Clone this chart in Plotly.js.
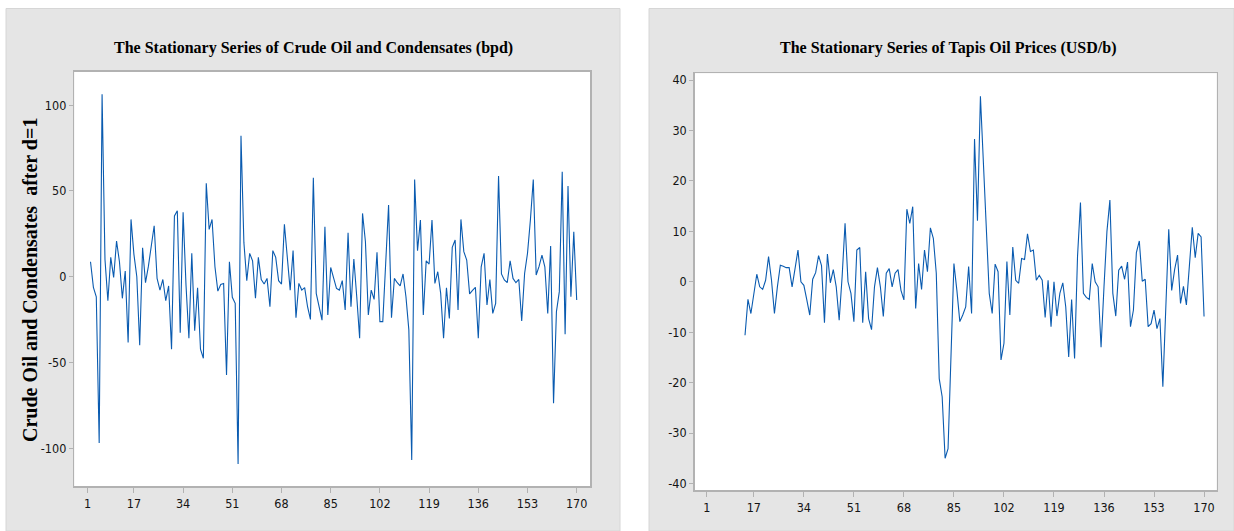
<!DOCTYPE html>
<html>
<head>
<meta charset="utf-8">
<script src="https://cdn.plot.ly/plotly-3.0.1.min.js"></script>
<style>html,body{margin:0;padding:0;background:#fff;}#chart{width:1234px;height:531px;}</style>
</head>
<body>
<div id="chart"></div>
<script>
// ---- Data ----
var crudeStart = 2;   // first index of the differenced crude series
var crudeValues = [
  8.7, -6.2, -11.7, -97, 106.4, 10, -14, 11.3, -0.4,
  20.8, 8.7, -12.6, 3.3, -38.3, 33.4, 13, 0, -40, 16.9,
  -3.5, 6, 18, 29.7, -1, -7.8, -1.6, -14, -5.4, -42.3,
  35.4, 38.5, -32.6, 37.5, -5, -35.9, 13.6, -31.5, -6.4, -42.3,
  -47.6, 54.4, 27.6, 33.4, 5.8, -8.4, -4.5, -3.9, -57.3, 8.7,
  -12, -15.5, -109.2, 82.2, 20, -2.3, 13.6, 9.3, -12.6, 11.3,
  -1.6, -4.3, -1, -17.5, 15.2, 11.3, -2.3, -4.3, 30.5, 11.7,
  -7.8, 15.2, -23.9, -3.9, -7.8, -6.4, -17.5, -24.9, 57.7, -9.7,
  -18.5, -25.3, 29.1, -22.3, 5.4, 0, -6.8, -7.8, -2.3, -19.4,
  25.6, -17.5, 10.3, -11.7, -35.9, 36.9, 20.4, -22.3, -7.8, -13.2,
  14.2, -26.2, -26.2, 7.8, 41.8, -23.9, -1, -3.5, -5.4, 1.6,
  -11.7, -31, -106.8, 56.7, 15.2, 33, -22.3, 9.3, 7.4, 33,
  -3.9, 2.9, -9.7, -35.9, -6.4, -24.3, 17.1, 21.4, -19.4, 33.4,
  14.6, 9.7, -10, -8, -6.2, -35.9, 5.8, 13.6, -16.5, -1.6,
  -21.4, -15.5, 58.7, 1.6, -1.9, -3.5, 9.3, -1, -3.5, -1.6,
  -25.8, 1.9, 13.6, 33, 56.7, 1, 6, 12.6, 5.8, -21.4,
  17.9, -73.8, -20.4, -8.7, 61.2, -33.6, 52.8, -11.7, 26.2, -13.6
];

var tapisStart = 14;  // first index of the differenced Tapis series
var tapisValues = [
  -10.6, -3.5, -6.3, -2.3, 1.5, -1, -1.5,
  0.3, 5, 0.3, -6.3, -1, 3.3, 3.1, 2.8, 2.8, -1,
  2.6, 6.3, 0, -0.7, -3.6, -6.6, 0.5, 1.8, 5.2, 3.2,
  -8.1, 5.5, -0.2, 2.4, -1, -7.6, 1, 11.6, 0, -2.3,
  -7.9, 6.3, 6.8, -8.1, 2, -7.3, -9.5, -1, 2.8, -1,
  -6.9, 1.7, 2.6, -1, 1.7, 2.4, -1.7, -3.6, 14.4, 11.6,
  14.9, -5.3, 3.6, -1.5, 6.3, 2, 10.7, 8.6, 1.7, -19.2,
  -22.8, -35, -33.1, -12.2, 3.6, -1.7, -7.9, -6.6, -5, 3,
  -6.3, 28.3, 12.1, 36.8, 24, 8, -2.3, -6.3, 3.5, 2,
  -15.5, -12.2, 4, -6.6, 6.9, 0.3, -0.3, 4.6, 4.4, 9.5,
  6, 6.3, 0.3, 1.3, 0.3, -7.1, 0.3, -8.9, 0, -6.8,
  -2.3, -0.2, -5, -14.9, -3.5, -15.2, 5, 15.7, -2.3, -3.1,
  -3.5, 3.6, 0, -1, -13, -1, 10, 16.2, -2.3, -6.8,
  2.3, 3.1, 0.5, 3.9, -8.9, -5.6, 5.8, 8.1, 0.1, 0.5,
  -8.9, -8.3, -5.6, -9.3, -7.3, -20.8, -5, 10.4, -1.7, 2.4,
  5.3, -4.3, -0.9, -4.6, 3, 10.8, 4.8, 9.6, 8.9, -6.9
];

var xTicks = [1, 17, 34, 51, 68, 85, 102, 119, 136, 153, 170];
var yTicksCrude = [-100, -50, 0, 50, 100];
var yTicksTapis = [-40, -30, -20, -10, 0, 10, 20, 30, 40];

var titleCrude = "The Stationary Series of Crude Oil and Condensates (bpd)";
var titleTapis = "The Stationary Series of Tapis Oil Prices (USD/b)";
var yTitleCrude = "Crude Oil and Condensates  after d=1";

// ---- Build ----
function idx(start, arr) { return arr.map(function (v, i) { return start + i; }); }

var W = 1234, H = 531;
function px(x) { return x / W; }
function py(y) { return 1 - y / H; }

var lineColor = "#0a5bb0";
var tickFont = { family: "DejaVu Sans Condensed, Roboto, sans-serif", size: 12.5, color: "#141414" };
var frameColor = "#b2b2b2";
var serif = "Liberation Serif, Times New Roman, serif";

var traces = [
  { x: idx(crudeStart, crudeValues), y: crudeValues, type: "scatter", mode: "lines",
    line: { color: lineColor, width: 1.1 }, xaxis: "x", yaxis: "y", hoverinfo: "x+y" },
  { x: idx(tapisStart, tapisValues), y: tapisValues, type: "scatter", mode: "lines",
    line: { color: lineColor, width: 1.1 }, xaxis: "x2", yaxis: "y2", hoverinfo: "x+y" }
];

function xAxis(domain, range, anchor) {
  return { domain: domain, range: range, anchor: anchor, tickmode: "array", tickvals: xTicks,
    ticktext: xTicks.map(String), ticks: "outside", ticklen: 5, tickcolor: frameColor, tickwidth: 1,
    showgrid: false, zeroline: false, showline: true, mirror: true, linecolor: frameColor, linewidth: 1.5,
    tickfont: tickFont, fixedrange: true };
}
function yAxis(domain, range, anchor, ticks) {
  return { domain: domain, range: range, anchor: anchor, tickmode: "array", tickvals: ticks,
    ticktext: ticks.map(String), ticks: "outside", ticklen: 4, tickcolor: frameColor, tickwidth: 1,
    showgrid: false, zeroline: false, showline: true, mirror: true, linecolor: frameColor, linewidth: 1.5,
    tickfont: tickFont, fixedrange: true };
}

var L = { x0: 74.3, x1: 590, y0: 71.7, y1: 486 };
var R = { x0: 694.7, x1: 1216.7, y0: 73.3, y1: 490 };

var layout = {
  width: W, height: H,
  margin: { l: 0, r: 0, t: 0, b: 0 },
  paper_bgcolor: "#ffffff",
  plot_bgcolor: "#ffffff",
  showlegend: false,
  xaxis: xAxis([px(L.x0), px(L.x1)], [-3.6, 174.6], "y"),
  yaxis: yAxis([py(L.y1), py(L.y0)], [-122, 119.5], "x", yTicksCrude),
  xaxis2: xAxis([px(R.x0), px(R.x1)], [-3.1, 174.3], "y2"),
  yaxis2: yAxis([py(R.y1), py(R.y0)], [-41.3, 41.35], "x2", yTicksTapis),
  shapes: [
    { type: "rect", xref: "paper", yref: "paper", layer: "below",
      x0: px(6), x1: px(620), y0: 0, y1: py(8.5),
      fillcolor: "#e5e5e5", line: { color: "#d6d6d6", width: 1 } },
    { type: "rect", xref: "paper", yref: "paper", layer: "below",
      x0: px(649), x1: 1, y0: 0, y1: py(8.5),
      fillcolor: "#e5e5e5", line: { color: "#d6d6d6", width: 1 } },
    { type: "rect", xref: "paper", yref: "paper", layer: "below",
      x0: px(L.x0), x1: px(L.x1), y0: py(L.y1), y1: py(L.y0),
      fillcolor: "#ffffff", line: { width: 0 } },
    { type: "rect", xref: "paper", yref: "paper", layer: "below",
      x0: px(R.x0), x1: px(R.x1), y0: py(R.y1), y1: py(R.y0),
      fillcolor: "#ffffff", line: { width: 0 } }
  ],
  annotations: [
    { text: "<b>" + titleCrude + "</b>", xref: "paper", yref: "paper", x: px(313), y: py(47.5),
      xanchor: "center", yanchor: "middle", showarrow: false,
      font: { family: serif, size: 16, color: "#000" } },
    { text: "<b>" + titleTapis + "</b>", xref: "paper", yref: "paper", x: px(948), y: py(47.5),
      xanchor: "center", yanchor: "middle", showarrow: false,
      font: { family: serif, size: 16, color: "#000" } },
    { text: "<b>" + yTitleCrude + "</b>", xref: "paper", yref: "paper", x: px(30), y: py(280),
      xanchor: "center", yanchor: "middle", showarrow: false, textangle: -90,
      font: { family: serif, size: 20, color: "#000" } }
  ]
};

Plotly.newPlot("chart", traces, layout, { displayModeBar: false, staticPlot: true });
</script>
</body>
</html>
